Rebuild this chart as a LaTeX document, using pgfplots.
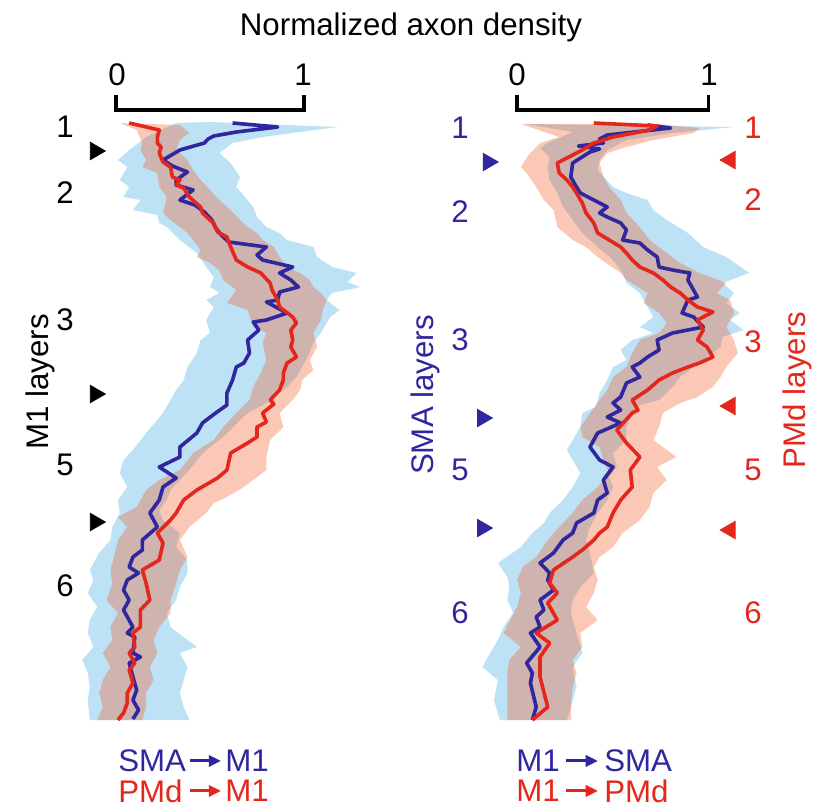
\documentclass[border=0pt]{standalone}
\usepackage{fontspec}
\setmainfont{Liberation Sans}
\usepackage{pgfplots}
\pgfplotsset{compat=1.18}
\usetikzlibrary{arrows.meta}

\definecolor{lblue}{RGB}{190,226,245}
\definecolor{salmonpaint}{RGB}{245,72,12}
\definecolor{lineblue}{RGB}{48,38,158}
\definecolor{linered}{RGB}{228,38,28}

% 1 px of the reference = 0.18mm; depth runs downward
\pgfplotsset{
  panel/.style={hide axis, clip=false, scale only axis, enlargelimits=false,
    y dir=reverse, anchor=north west, height=111.6mm,
    ymin=-10, ymax=610, xmin=-0.3, xmax=1.4},
  band/.style={draw=none, forget plot},
  salmonband/.style={band, fill=salmonpaint, fill opacity=0.3},
  mean/.style={line width=0.65mm, line join=round, mark=none},
  layermark/.style={only marks, mark=triangle*, mark size=1.8mm},
}

\begin{document}
\begin{tikzpicture}[font=\fontsize{16}{19}\selectfont]
\path[use as bounding box] (0,0) rectangle (146.7mm,-145.26mm);

% ---------- left panel: inputs to M1 ----------
\begin{axis}[panel, at={(10.728mm,-20.16mm)}, width=57.528mm]
% SMA band
\addplot[band, fill=lblue] coordinates {(0.32,1) (0.16,15) (0.07,28) (0.01,38) (0.06,45) (0.02,58) (0.07,65) (0.04,75) (0.13,78) (0.09,88) (0.22,93) (0.23,101) (0.27,105) (0.34,118) (0.43,131) (0.48,145) (0.52,155) (0.50,165) (0.55,171) (0.48,178) (0.52,185) (0.48,198) (0.50,211) (0.45,218) (0.43,231) (0.38,245) (0.36,258) (0.32,268) (0.29,278) (0.25,291) (0.16,311) (0.09,328) (0.04,338) (0.02,351) (0.06,365) (0.01,378) (0.02,391) (-0.02,405) (-0.03,418) (-0.09,431) (-0.14,448) (-0.12,458) (-0.15,471) (-0.10,485) (-0.14,498) (-0.15,511) (-0.12,525) (-0.18,538) (-0.15,551) (-0.14,565) (-0.15,578) (-0.14,598)
 (0.39,598) (0.36,585) (0.34,571) (0.36,558) (0.38,545) (0.34,531) (0.43,525) (0.29,505) (0.27,491) (0.32,478) (0.34,465) (0.38,451) (0.38,438) (0.32,425) (0.34,411) (0.25,398) (0.23,388) (0.27,378) (0.29,368) (0.34,358) (0.39,348) (0.43,338) (0.48,328) (0.57,315) (0.66,298) (0.70,291) (0.80,281) (0.91,265) (0.96,255) (0.99,245) (1.03,231) (1.05,221) (1.09,211) (1.12,201) (1.14,195) (1.19,188) (1.12,178) (1.15,171) (1.30,165) (1.23,160) (1.28,151) (1.15,145) (1.07,135) (1.05,125) (0.91,118) (0.87,111) (0.80,105) (0.75,95) (0.73,85) (0.70,78) (0.64,65) (0.66,55) (0.61,41) (0.55,31) (0.62,21) (0.78,15) (1.18,5) (0.50,0)};
% PMd band
\addplot[salmonband] coordinates {(0.02,1) (0.11,8) (0.14,21) (0.13,28) (0.16,38) (0.14,45) (0.22,51) (0.23,65) (0.27,75) (0.25,91) (0.29,98) (0.34,105) (0.38,111) (0.41,118) (0.45,128) (0.43,135) (0.50,141) (0.55,148) (0.57,158) (0.64,168) (0.59,181) (0.70,188) (0.73,205) (0.80,211) (0.78,221) (0.80,238) (0.77,251) (0.73,265) (0.71,278) (0.64,291) (0.57,305) (0.52,318) (0.41,331) (0.34,348) (0.23,358) (0.16,368) (0.11,385) (0.01,395) (0.06,405) (0.01,418) (-0.01,435) (-0.03,448) (-0.02,461) (-0.05,478) (0.01,491) (-0.03,505) (-0.02,518) (-0.07,531) (-0.03,545) (-0.07,558) (-0.09,571) (-0.07,585) (-0.10,598)
 (0.14,598) (0.16,585) (0.16,571) (0.20,558) (0.18,545) (0.22,531) (0.20,518) (0.23,505) (0.29,491) (0.29,478) (0.32,461) (0.34,448) (0.38,435) (0.34,418) (0.39,405) (0.48,391) (0.52,381) (0.59,375) (0.68,365) (0.80,348) (0.80,335) (0.82,318) (0.89,305) (0.87,291) (0.94,278) (0.98,268) (0.99,258) (1.05,248) (1.03,238) (1.07,225) (1.05,211) (1.09,198) (1.10,188) (1.12,178) (1.09,171) (1.05,165) (1.03,158) (0.98,151) (0.91,145) (0.87,135) (0.84,125) (0.78,118) (0.75,111) (0.70,105) (0.66,98) (0.61,88) (0.55,78) (0.50,68) (0.45,58) (0.41,48) (0.38,38) (0.32,28) (0.34,18) (0.39,11) (0.34,3)};
% SMA -> M1
\addplot[mean, lineblue] coordinates {(0.62,1) (0.86,5) (0.64,10) (0.52,14) (0.49,17) (0.47,21) (0.34,28) (0.25,38) (0.30,44) (0.38,50) (0.32,58) (0.32,63) (0.41,68) (0.34,78) (0.42,83) (0.47,90) (0.51,98) (0.53,106) (0.56,113) (0.60,120) (0.80,125) (0.75,133) (0.78,138) (0.94,145) (0.87,151) (0.93,158) (0.97,165) (0.87,170) (0.86,178) (0.80,180) (0.91,191) (0.80,198) (0.73,200) (0.76,208) (0.70,218) (0.71,231) (0.68,241) (0.64,245) (0.62,258) (0.59,271) (0.59,283) (0.53,291) (0.46,301) (0.43,311) (0.34,325) (0.34,335) (0.23,345) (0.32,356) (0.25,365) (0.23,378) (0.18,391) (0.22,405) (0.14,418) (0.14,428) (0.09,435) (0.07,445) (0.12,451) (0.06,458) (0.04,468) (0.07,478) (0.04,488) (0.09,505) (0.06,511) (0.10,515) (0.09,531) (0.13,535) (0.07,541) (0.09,555) (0.11,568) (0.09,578) (0.12,588) (0.09,597)};
% PMd -> M1
\addplot[mean, linered] coordinates {(0.07,1) (0.23,8) (0.22,15) (0.22,21) (0.24,25) (0.23,31) (0.25,40) (0.29,45) (0.30,55) (0.34,58) (0.32,63) (0.36,66) (0.39,75) (0.45,85) (0.46,91) (0.50,98) (0.52,101) (0.54,110) (0.59,115) (0.61,125) (0.64,138) (0.70,145) (0.77,151) (0.82,161) (0.83,168) (0.86,178) (0.87,185) (0.94,195) (0.96,201) (0.93,208) (0.94,218) (0.93,225) (0.96,235) (0.91,241) (0.89,251) (0.89,258) (0.87,268) (0.82,278) (0.84,282) (0.78,291) (0.80,300) (0.75,305) (0.75,315) (0.70,321) (0.61,331) (0.59,348) (0.54,356) (0.43,368) (0.36,378) (0.32,391) (0.29,398) (0.22,411) (0.25,421) (0.23,438) (0.14,448) (0.16,461) (0.18,478) (0.13,488) (0.13,505) (0.09,511) (0.10,525) (0.07,531) (0.10,541) (0.07,548) (0.09,561) (0.06,571) (0.06,581) (0.04,591) (0.01,598)};
% layer boundaries
\addplot[layermark, black, mark options={rotate=-90}] coordinates {(-0.11,29) (-0.11,272) (-0.11,400)};
\end{axis}

% ---------- right panel: outputs of M1 ----------
\begin{axis}[panel, at={(82.692mm,-20.16mm)}, width=58.752mm]
\addplot[band, fill=lblue] coordinates {(0.05,2) (0.29,10) (0.16,21) (0.12,26) (0.17,35) (0.16,45) (0.17,58) (0.21,71) (0.24,85) (0.29,98) (0.34,111) (0.42,125) (0.50,138) (0.55,151) (0.57,161) (0.64,171) (0.68,185) (0.71,195) (0.64,205) (0.71,211) (0.60,218) (0.54,228) (0.57,238) (0.50,245) (0.47,258) (0.43,271) (0.41,285) (0.34,291) (0.33,305) (0.26,328) (0.29,338) (0.33,351) (0.29,365) (0.24,378) (0.17,391) (0.14,401) (0.08,411) (0.02,425) (-0.10,441) (-0.05,455) (-0.04,465) (-0.05,478) (-0.02,491) (-0.07,505) (-0.10,518) (-0.14,531) (-0.18,545) (-0.10,558) (-0.12,578) (-0.09,598)
 (0.26,598) (0.28,585) (0.31,565) (0.29,545) (0.34,531) (0.31,511) (0.28,491) (0.29,478) (0.33,465) (0.40,451) (0.38,431) (0.36,418) (0.38,405) (0.42,391) (0.47,378) (0.50,365) (0.48,355) (0.52,345) (0.50,331) (0.57,318) (0.57,305) (0.60,291) (0.64,283) (0.74,278) (0.81,265) (0.85,255) (0.92,245) (0.99,235) (1.06,225) (1.07,215) (1.18,208) (1.11,198) (1.16,191) (1.09,181) (1.13,171) (1.07,161) (1.21,151) (1.09,135) (0.97,125) (0.89,111) (0.78,98) (0.71,88) (0.68,78) (0.57,71) (0.50,65) (0.42,48) (0.43,38) (0.47,28) (0.57,18) (0.81,11) (1.13,5)};
\addplot[salmonband] coordinates {(0.02,2) (0.22,15) (0.12,21) (0.06,33) (0.02,45) (0.05,51) (0.10,65) (0.14,78) (0.19,88) (0.21,105) (0.29,118) (0.36,125) (0.42,135) (0.54,151) (0.57,158) (0.68,171) (0.66,181) (0.74,191) (0.78,201) (0.74,211) (0.64,218) (0.60,231) (0.57,245) (0.50,255) (0.47,268) (0.43,278) (0.33,305) (0.34,315) (0.43,325) (0.45,338) (0.48,351) (0.42,365) (0.34,378) (0.29,391) (0.22,405) (0.16,418) (0.10,435) (0.03,445) (0.00,458) (0.02,471) (0.00,485) (-0.07,511) (0.02,525) (-0.04,538) (-0.05,551) (-0.05,565) (-0.05,598)
 (0.28,598) (0.28,585) (0.29,565) (0.31,551) (0.29,538) (0.34,525) (0.33,511) (0.42,498) (0.36,485) (0.40,471) (0.42,458) (0.40,445) (0.43,435) (0.50,425) (0.55,411) (0.64,398) (0.69,385) (0.71,371) (0.78,358) (0.73,345) (0.83,335) (0.71,318) (0.74,305) (0.76,291) (0.85,281) (0.94,275) (1.02,265) (1.06,255) (1.09,245) (1.15,231) (1.13,218) (1.09,205) (1.13,191) (1.11,178) (1.04,171) (1.09,161) (0.95,151) (0.85,141) (0.78,131) (0.69,118) (0.64,105) (0.57,91) (0.54,78) (0.48,65) (0.45,55) (0.43,41) (0.47,31) (0.57,25) (0.71,18) (0.92,11) (0.95,6) (0.74,2)};
% M1 -> SMA
\addplot[mean, lineblue] coordinates {(0.68,3) (0.80,6) (0.47,13) (0.43,17) (0.45,21) (0.32,24) (0.43,27) (0.38,30) (0.29,41) (0.28,55) (0.31,65) (0.33,71) (0.40,78) (0.47,85) (0.43,91) (0.47,95) (0.54,101) (0.57,108) (0.55,118) (0.64,121) (0.68,128) (0.73,135) (0.74,145) (0.81,148) (0.90,151) (0.89,158) (0.94,175) (0.89,178) (0.86,191) (0.92,195) (0.97,205) (0.81,211) (0.73,218) (0.74,228) (0.68,235) (0.64,241) (0.60,245) (0.64,255) (0.57,261) (0.54,275) (0.50,281) (0.54,288) (0.47,295) (0.54,301) (0.42,311) (0.38,325) (0.43,338) (0.50,345) (0.45,358) (0.47,371) (0.42,378) (0.40,391) (0.31,401) (0.29,411) (0.24,418) (0.19,431) (0.12,441) (0.17,451) (0.16,458) (0.19,468) (0.12,478) (0.14,488) (0.10,495) (0.12,505) (0.07,511) (0.12,525) (0.05,541) (0.08,551) (0.07,561) (0.10,585) (0.08,598)};
% M1 -> PMd
\addplot[mean, linered] coordinates {(0.40,1) (0.73,4) (0.69,8) (0.50,15) (0.40,21) (0.34,28) (0.21,41) (0.22,51) (0.26,58) (0.29,65) (0.31,71) (0.34,81) (0.36,91) (0.40,101) (0.42,111) (0.48,118) (0.54,125) (0.57,131) (0.60,138) (0.64,145) (0.71,151) (0.76,158) (0.80,165) (0.85,171) (0.89,178) (0.94,185) (1.02,190) (0.94,198) (0.97,208) (0.94,218) (0.99,225) (1.02,235) (0.95,241) (0.89,245) (0.81,251) (0.74,258) (0.68,268) (0.60,278) (0.63,288) (0.60,291) (0.52,308) (0.57,321) (0.64,335) (0.59,348) (0.60,365) (0.54,378) (0.50,391) (0.47,405) (0.43,411) (0.40,418) (0.34,428) (0.29,435) (0.19,448) (0.17,461) (0.21,471) (0.16,481) (0.21,498) (0.10,511) (0.17,521) (0.12,535) (0.12,555) (0.16,585) (0.08,598)};
\addplot[layermark, lineblue, mark options={rotate=-90}] coordinates {(-0.15,40) (-0.18,296) (-0.18,406)};
\addplot[layermark, linered, mark options={rotate=90}] coordinates {(1.11,38) (1.11,284) (1.11,408)};
\end{axis}

% ---------- labels, scale bars, key ----------
\begin{scope}[x=0.18mm, y=-0.18mm]
\node at (411,27) {Normalized axon density};
\draw[line width=0.55mm] (116,95) -- (116,110) -- (304,110) -- (304,95);
\draw[line width=0.55mm] (517,95) -- (517,110) -- (709,110) -- (709,95);
\node at (117,75) {0};
\node at (303,75) {1};
\node at (517,75) {0};
\node at (709,75) {1};

\node[rotate=90] at (40,382) {M1 layers};
\foreach \t/\yy in {1/127, 2/193, 3/320, 5/465, 6/586}
  \node at (65,\yy) {\t};

\node[rotate=90, text=lineblue] at (425,395) {SMA layers};
\foreach \t/\yy in {1/128, 2/212, 3/340, 5/470, 6/613}
  \node[text=lineblue] at (460,\yy) {\t};
\node[rotate=90, text=linered] at (797,390) {PMd layers};
\foreach \t/\yy in {1/128, 2/200, 3/342, 5/470, 6/613}
  \node[text=linered] at (753,\yy) {\t};

\tikzset{key/.style={line width=0.55mm, -{Triangle[length=2.2mm, width=2mm]}}}
\node[anchor=west, inner sep=0, text=lineblue] at (118,761) {SMA};
\draw[key, lineblue] (190,761) -- (221,761);
\node[anchor=west, inner sep=0, text=lineblue] at (225,761) {M1};
\node[anchor=west, inner sep=0, text=linered] at (118,791) {PMd};
\draw[key, linered] (190,791) -- (221,791);
\node[anchor=west, inner sep=0, text=linered] at (225,791) {M1};

\node[anchor=west, inner sep=0, text=lineblue] at (516,761) {M1};
\draw[key, lineblue] (566,761) -- (598,761);
\node[anchor=west, inner sep=0, text=lineblue] at (604,761) {SMA};
\node[anchor=west, inner sep=0, text=linered] at (516,791) {M1};
\draw[key, linered] (566,791) -- (598,791);
\node[anchor=west, inner sep=0, text=linered] at (604,791) {PMd};
\end{scope}
\end{tikzpicture}
\end{document}
